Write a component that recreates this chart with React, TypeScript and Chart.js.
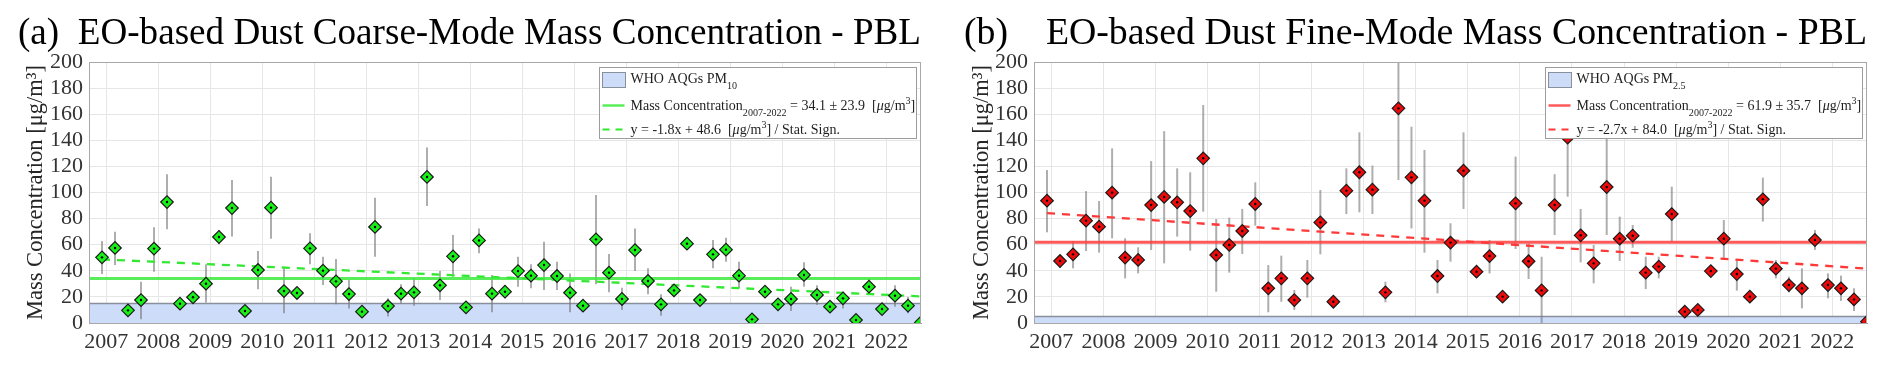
import React, { useEffect, useRef } from 'react';
import { Chart, registerables } from 'chart.js';

Chart.register(...registerables);

// ---------- data ----------
const YEARS = [2007, 2008, 2009, 2010, 2011, 2012, 2013, 2014, 2015, 2016, 2017, 2018, 2019, 2020, 2021, 2022];
// season start (DJF, MAM, JJA, SON) as decimal-year offsets
const SEASON_START = [-1 / 12, 2 / 12, 5 / 12, 8 / 12];
const X_MIN = 2006 + 8 / 12;
const X_MAX = 2022 + 8 / 12;
const Y_MIN = 0;
const Y_MAX = 200;
const Y_STEP = 20;

const COARSE = [
  50.3, 57.5, 9.7, 17.6, 57.0, 92.7, 14.8, 19.7, 30.1, 65.9, 88.1, 9.2, 40.6, 88.4, 24.5, 23.0,
  57.2, 40.1, 31.9, 22.2, 8.7, 73.6, 13.0, 22.5, 23.5, 111.9, 28.9, 51.1, 12.0, 63.3, 22.5, 24.0,
  39.8, 36.3, 44.4, 36.0, 23.2, 13.3, 64.1, 38.6, 18.4, 55.9, 32.2, 14.3, 25.0, 60.8, 17.6, 52.6,
  56.2, 36.3, 2.8, 24.0, 14.3, 18.4, 36.8, 21.5, 12.5, 18.9, 2.3, 27.8, 10.7, 20.9, 13.3, 0.5,
];
const COARSE_LO = [
  37.5, 44.4, 6, 2.8, 39.3, 71.8, 12, 15.5, 15.8, 60.3, 66.2, 6, 25.8, 64.6, 7.4, 20,
  45, 29.1, 14.3, 11.2, 6, 50.8, 4.9, 15, 13.3, 89.7, 17.6, 35.5, 8, 53.4, 8.2, 19,
  27.8, 26.6, 25.3, 25.3, 8.2, 10, 29.6, 23.5, 10, 39.8, 22, 5.6, 20, 57.5, 14, 41.9,
  47, 26.6, 0.5, 20.5, 10, 9.2, 27.8, 13.8, 9.5, 11.2, 0, 22.7, 8, 12.5, 7.4, 0,
];
const COARSE_HI = [
  62.8, 70, 13, 31.7, 73.3, 113.9, 18, 24, 45, 71.3, 109.6, 12.5, 55.2, 112, 41.9, 26,
  68.7, 50.8, 49, 33, 11.5, 96, 18.9, 29.6, 34.2, 134.4, 39.8, 67.4, 16, 72.5, 36.8, 29,
  50.8, 45, 62.3, 47, 38, 16.5, 98, 52.9, 27, 72.5, 41.9, 22, 29, 64, 21, 63.6,
  65.4, 47, 5, 27.5, 19, 27.8, 46.5, 29, 15.5, 24, 4.5, 33.7, 13.5, 29, 20, 1,
];

const FINE = [
  93.7, 47.5, 52.6, 78.4, 73.8, 99.9, 50.1, 48.3, 90.4, 96.6, 92.5, 85.8, 126.2, 52.1, 59.8, 70.5,
  91.2, 26.6, 34.2, 17.6, 34.2, 77.1, 16.3, 101.4, 115.5, 102.2, 23.5, 164.5, 111.6, 93.7, 36.0, 61.6,
  116.7, 39.3, 51.3, 20.2, 91.7, 47.3, 25.0, 90.4, 142.0, 67.2, 45.7, 104.2, 64.6, 66.9, 38.6, 43.2,
  83.5, 8.7, 10.0, 39.8, 64.6, 37.5, 20.2, 94.8, 41.6, 29.1, 26.6, 63.6, 29.1, 26.6, 18.1, 1.0,
];
const FINE_LO = [
  69.5, 42.4, 41.9, 55.2, 53.9, 64.9, 34.2, 38, 55.9, 45.7, 66.2, 55.4, 85.3, 24, 38.6, 52.9,
  74.6, 8.2, 16.3, 10, 19.4, 52.6, 13, 83.5, 84.8, 83.5, 15.8, 109.6, 72.5, 53.9, 22.7, 47,
  87.4, 35, 38, 17, 56.7, 33.7, 0, 67.4, 96.8, 46.5, 30.4, 67.4, 47.5, 57.7, 26, 34.2,
  62.3, 6, 7, 36.5, 49.6, 24.8, 17, 77.7, 34.2, 23.5, 11.2, 56, 18.9, 16.9, 9.2, 0,
];
const FINE_HI = [
  117.2, 52, 62.8, 101.1, 93.5, 133.8, 64.9, 58, 124.1, 147, 118.5, 115.5, 167, 79.7, 80.7, 87.4,
  107.8, 44.4, 51.6, 25.3, 48.3, 101.9, 19.5, 118.5, 146.1, 120.6, 31.7, 205, 150.4, 132.6, 48.3, 76.4,
  146.1, 43.5, 63.6, 23.5, 127.5, 61, 50.8, 114, 180, 87.4, 59.8, 141.5, 81.5, 75.1, 50.8, 50.8,
  104.5, 11.5, 13, 43, 78.9, 49, 23.5, 111.4, 48.3, 35.5, 41.9, 71.3, 38, 36.3, 26.6, 2,
];

const TITLES = [
  '(a)  EO-based Dust Coarse-Mode Mass Concentration - PBL',
  '(b)    EO-based Dust Fine-Mode Mass Concentration - PBL',
];
const Y_TITLE = 'Mass Concentration [\u03bcg/m\u00b3]';
const WHO_LIMITS = [15, 5];
const WHO_SUB = ['10', '2.5'];
const MEANS = [34.1, 61.9];
const STDS = [23.9, 35.7];
const SLOPES = [-1.8, -2.7];
const INTERCEPTS = [48.6, 84.0];
const TREND_ORIGIN = 2007;
const PERIOD = '2007-2022';

// ---------- style ----------
const FONT = '"Liberation Serif", "Times New Roman", serif';
Chart.defaults.font.family = FONT;
Chart.defaults.font.weight = 'normal' as any;
const THEMES = [
  { marker: '#19f019', mean: 'rgba(60,235,60,0.85)', trend: '#33e833' },
  { marker: '#ee0a0a', mean: 'rgba(255,60,60,0.85)', trend: '#ff3838' },
];

const seasonX: number[] = [];
YEARS.forEach((y) => SEASON_START.forEach((s) => seasonX.push(y + s)));

type Seg = { t: string; k?: 'sub' | 'sup' | 'it' };

function drawSegs(ctx: CanvasRenderingContext2D, segs: Seg[], x: number, y: number, size: number) {
  let cx = x;
  for (const s of segs) {
    let fs = size;
    let dy = 0;
    let style = '';
    if (s.k === 'sub') { fs = size * 0.72; dy = size * 0.42; }
    if (s.k === 'sup') { fs = size * 0.72; dy = -size * 0.4; }
    if (s.k === 'it') style = 'italic ';
    ctx.font = `${style}${fs}px ${FONT}`;
    ctx.fillText(s.t, cx, y + dy);
    cx += ctx.measureText(s.t).width;
  }
}

function makeConfig(p: number) {
  const vals = p === 0 ? COARSE : FINE;
  const lo = p === 0 ? COARSE_LO : FINE_LO;
  const hi = p === 0 ? COARSE_HI : FINE_HI;
  const th = THEMES[p];
  const who = WHO_LIMITS[p];
  const mean = MEANS[p];
  const slope = SLOPES[p];
  const icpt = INTERCEPTS[p];
  const pts = vals.map((v, i) => ({ x: seasonX[i], y: v }));
  const trendX0 = seasonX[0];
  const trend = [
    { x: trendX0, y: icpt + slope * (trendX0 - TREND_ORIGIN) },
    { x: X_MAX, y: icpt + slope * (X_MAX - TREND_ORIGIN) },
  ];
  const legendRows: Seg[][] = [
    [{ t: 'WHO AQGs PM' }, { t: WHO_SUB[p], k: 'sub' }],
    [
      { t: 'Mass Concentration' }, { t: PERIOD, k: 'sub' },
      { t: ` = ${mean.toFixed(1)} \u00b1 ${STDS[p].toFixed(1)}  [` }, { t: '\u03bc', k: 'it' }, { t: 'g/m' }, { t: '3', k: 'sup' }, { t: ']' },
    ],
    [
      { t: `y = ${slope.toFixed(1)}x + ${icpt.toFixed(1)}  [` }, { t: '\u03bc', k: 'it' }, { t: 'g/m' }, { t: '3', k: 'sup' }, { t: '] / Stat. Sign.' },
    ],
  ];

  const errPlugin = {
    id: 'errbars' + p,
    afterDatasetDraw(chart: any, args: any) {
      if (args.index !== 0) return;
      const { ctx, chartArea: a, scales } = chart;
      ctx.save();
      ctx.beginPath();
      ctx.rect(a.left, a.top, a.right - a.left, a.bottom - a.top);
      ctx.clip();
      ctx.strokeStyle = 'rgba(120,120,120,0.6)';
      ctx.lineWidth = 2;
      for (let i = 0; i < vals.length; i++) {
        const x = scales.x.getPixelForValue(seasonX[i]);
        ctx.beginPath();
        ctx.moveTo(x, scales.y.getPixelForValue(lo[i]));
        ctx.lineTo(x, scales.y.getPixelForValue(hi[i]));
        ctx.stroke();
      }
      ctx.restore();
    },
  };

  const legendPlugin = {
    id: 'box' + p,
    afterDatasetsDraw(chart: any) {
      const { ctx, chartArea: a } = chart;
      ctx.save();
      // frame
      ctx.strokeStyle = '#a8a8a8';
      ctx.lineWidth = 1;
      ctx.strokeRect(a.left + 0.5, a.top + 0.5, a.right - a.left - 1, a.bottom - a.top);
      // legend box
      const w = 317;
      const h = 71;
      const bx = Math.round(a.right - 5 - w) + 0.5;
      const by = Math.round(a.top + 5) + 0.5;
      ctx.fillStyle = '#ffffff';
      ctx.fillRect(bx, by, w, h);
      ctx.strokeStyle = '#9c9c9c';
      ctx.strokeRect(bx, by, w, h);
      // swatches
      ctx.fillStyle = '#cddcf8';
      ctx.fillRect(bx + 3, by + 5, 23, 15);
      ctx.strokeStyle = '#8a8f9c';
      ctx.strokeRect(bx + 3, by + 5, 23, 15);
      ctx.strokeStyle = th.mean;
      ctx.lineWidth = 2.5;
      ctx.beginPath();
      ctx.moveTo(bx + 3, by + 38);
      ctx.lineTo(bx + 25, by + 38);
      ctx.stroke();
      ctx.strokeStyle = th.trend;
      ctx.lineWidth = 2.2;
      ctx.setLineDash([7, 6]);
      ctx.beginPath();
      ctx.moveTo(bx + 3, by + 62);
      ctx.lineTo(bx + 25, by + 62);
      ctx.stroke();
      ctx.setLineDash([]);
      // texts
      ctx.fillStyle = '#1e1e1e';
      ctx.textBaseline = 'alphabetic';
      ctx.textAlign = 'left';
      const baselines = [15.5, 42.5, 66.5];
      legendRows.forEach((row, i) => drawSegs(ctx, row, bx + 31, by + baselines[i], 14));
      ctx.restore();
    },
  };

  const tickFont = { family: FONT, size: 22, weight: 'normal' as const };

  return {
    type: 'scatter' as const,
    data: {
      datasets: [
        {
          data: [{ x: X_MIN, y: who }, { x: X_MAX, y: who }],
          showLine: true,
          fill: 'origin',
          backgroundColor: '#cddcf8',
          borderColor: '#8a8f9c',
          borderWidth: 1.5,
          pointRadius: 0,
          order: 10,
        },
        {
          data: [{ x: X_MIN, y: mean }, { x: X_MAX, y: mean }],
          showLine: true,
          borderColor: th.mean,
          borderWidth: 3,
          pointRadius: 0,
          order: 6,
        },
        {
          data: trend,
          showLine: true,
          borderColor: th.trend,
          borderWidth: 2.3,
          borderDash: [8, 7],
          pointRadius: 0,
          order: 5,
        },
        {
          data: pts,
          pointStyle: 'rectRot',
          pointRadius: 6.3,
          pointBackgroundColor: th.marker,
          pointBorderColor: '#1a1a1a',
          pointBorderWidth: 1.2,
          order: 2,
        },
        {
          data: pts,
          pointStyle: 'circle',
          pointRadius: 1.2,
          pointBackgroundColor: '#000',
          pointBorderWidth: 0,
          order: 1,
        },
      ],
    },
    options: {
      responsive: false,
      animation: false as const,
      events: [],
      devicePixelRatio: 1,
      layout: { padding: { left: 18, right: 25, top: 0, bottom: 0 } },
      plugins: {
        legend: { display: false },
        tooltip: { enabled: false },
        title: {
          display: true,
          text: TITLES[p],
          align: 'start' as const,
          color: '#000',
          font: { family: FONT, size: 38.5, weight: 'normal' as const },
          padding: { top: 10.5, bottom: 5.3 },
        },
      },
      scales: {
        x: {
          type: 'linear' as const,
          min: X_MIN,
          max: X_MAX,
          afterBuildTicks: (axis: any) => { axis.ticks = YEARS.map((v) => ({ value: v })); },
          afterFit: (s: any) => { s.height = 47; },
          ticks: {
            callback: (v: any) => String(v),
            color: '#333',
            font: tickFont,
            padding: 6,
            maxRotation: 0,
            autoSkip: false,
          },
          grid: { color: '#e6e6e6', drawTicks: false },
          border: { color: '#9a9a9a' },
        },
        y: {
          min: Y_MIN,
          max: Y_MAX,
          afterFit: (s: any) => { s.width = p === 0 ? 71 : 70; },
          ticks: {
            stepSize: Y_STEP,
            color: '#333',
            font: tickFont,
            padding: 6,
            autoSkip: false,
          },
          grid: { color: '#e6e6e6', drawTicks: false },
          border: { color: '#9a9a9a' },
          title: {
            display: true,
            text: Y_TITLE,
            color: '#262626',
            font: { family: FONT, size: 22.5, weight: 'normal' as const },
            padding: { top: 5, bottom: 0 },
          },
        },
      },
    },
    plugins: [errPlugin, legendPlugin],
  };
}

function Panel({ p }: { p: number }) {
  const ref = useRef<HTMLCanvasElement>(null);
  useEffect(() => {
    const chart = new Chart(ref.current as HTMLCanvasElement, makeConfig(p) as any);
    return () => chart.destroy();
  }, [p]);
  return (
    <div style={{ position: 'absolute', left: p * 946, top: 0, width: 946, height: 370 }}>
      <canvas ref={ref} width={946} height={370} style={{ display: 'block', width: 946, height: 370 }} />
    </div>
  );
}

export default function App() {
  return (
    <div style={{ position: 'absolute', left: 0, top: 0, width: 1892, height: 370, background: '#fff' }}>
      <Panel p={0} />
      <Panel p={1} />
    </div>
  );
}
